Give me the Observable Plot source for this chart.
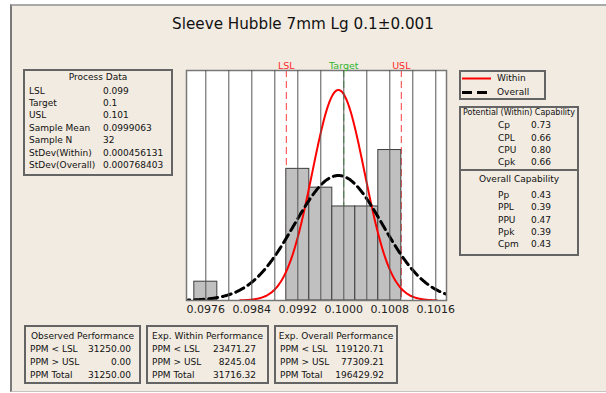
<!DOCTYPE html>
<html>
<head>
<meta charset="utf-8">
<script src="https://cdn.jsdelivr.net/npm/d3@7"></script>
<script src="https://cdn.jsdelivr.net/npm/@observablehq/plot@0.6"></script>
<style>
  html, body { margin: 0; padding: 0; background: #ffffff; }
  #page { position: relative; width: 606px; height: 393px; overflow: hidden; font-family: "DejaVu Sans", sans-serif; color: #000; }
  #panel { position: absolute; z-index: 0; left: 10px; top: 4px; width: 596px; height: 388px; box-sizing: border-box;
           background: #f2ebe1; border-top: 2px solid #a9a9a9; border-left: 2px solid #7a7a7a; border-bottom: 1px solid #c4c4c4; }
  .box { position: absolute; z-index: 1; box-sizing: border-box; border: 2px solid #646464; }
  .t { position: absolute; z-index: 2; white-space: nowrap; line-height: 14px; height: 14px; font-size: 9px; color: #111; }
  .heading { position: absolute; z-index: 2; left: 0; width: 606px; text-align: center; top: 14px; font-size: 15.2px; line-height: 20px; color: #111; }
  #chart-layer { position: absolute; left: 0; top: 0; width: 606px; height: 393px; z-index: 20; pointer-events: none; }
  #chart-layer svg { display: block; }
</style>
</head>
<body>
<div id="page">
  <div id="panel"></div>
  <div id="chart-layer"></div>
</div>
<script>
// Specification limits and sample statistics
const lsl = 0.099;
const target = 0.1;
const usl = 0.101;
const sampleMean = 0.0999063;
const sampleN = 32;
const sdWithin = 0.000456131;
const sdOverall = 0.000768403;

// Histogram bins (left edge) and counts
const binWidth = 0.0004;
const binStarts = [0.0974, 0.0990, 0.0994, 0.0998, 0.1002, 0.1006];
const binCounts = [1, 7, 6, 5, 5, 8];

// Axis
const xDomain = [0.097264, 0.101786];
const yMax = 12.23;
const xTickLabels = [0.0976, 0.0984, 0.0992, 0.1000, 0.1008, 0.1016];
const xMinorTicks = [0.0976, 0.0980, 0.0984, 0.0988, 0.0992, 0.0996, 0.1000, 0.1004, 0.1008, 0.1012, 0.1016];

// Capability indices
const withinCapLabels = ["Cp", "CPL", "CPU", "Cpk"];
const withinCapValues = ["0.73", "0.66", "0.80", "0.66"];
const overallCapLabels = ["Pp", "PPL", "PPU", "Ppk", "Cpm"];
const overallCapValues = ["0.43", "0.39", "0.47", "0.39", "0.43"];

// Performance (PPM)
const ppmLabels = ["PPM < LSL", "PPM > USL", "PPM Total"];
const observedPPM = ["31250.00", "0.00", "31250.00"];
const expWithinPPM = ["23471.27", "8245.04", "31716.32"];
const expOverallPPM = ["119120.71", "77309.21", "196429.92"];

const page = document.getElementById("page");

// ---------- text panels ----------
function el(cls, style, text) {
  const d = document.createElement("div");
  d.className = cls;
  Object.assign(d.style, style);
  if (text != null) d.textContent = text;
  page.appendChild(d);
  return d;
}
function box(left, top, width, height) {
  return el("box", {left: left + "px", top: top + "px", width: width + "px", height: height + "px"});
}
function txt(str, x, yc, opts = {}) {
  const s = {top: (yc - 7) + "px", fontSize: (opts.size || 9) + "px"};
  if (opts.align === "right") s.right = (606 - x) + "px";
  else if (opts.align === "center") { s.left = (x - 60) + "px"; s.width = "120px"; s.textAlign = "center"; }
  else s.left = x + "px";
  return el("t", s, str);
}

el("heading", {}, "Sleeve Hubble 7mm Lg 0.1\u00b10.001");

// Process Data
box(23, 69, 150, 107);
txt("Process Data", 98, 76.7, {align: "center"});
const processLabels = ["LSL", "Target", "USL", "Sample Mean", "Sample N", "StDev(Within)", "StDev(Overall)"];
const processValues = [lsl, target, usl, sampleMean, sampleN, sdWithin, sdOverall].map(String);
processLabels.forEach((l, i) => {
  const y = 90.7 + i * 12.38;
  txt(l, 29, y);
  txt(processValues[i], 103, y);
});

// Legend
box(459, 70, 87, 30);
const lg = document.createElementNS("http://www.w3.org/2000/svg", "svg");
lg.setAttribute("width", "40"); lg.setAttribute("height", "30");
Object.assign(lg.style, {position: "absolute", left: "459px", top: "70px", zIndex: "2"});
lg.innerHTML = '<line x1="3" x2="32" y1="8.5" y2="8.5" stroke="#ff0000" stroke-width="2"/>' +
               '<line x1="3" x2="33" y1="22.5" y2="22.5" stroke="#000" stroke-width="3" stroke-dasharray="10,5"/>';
page.appendChild(lg);
txt("Within", 497, 78.3);
txt("Overall", 497, 92.3);

// Capability
box(459, 106, 120, 150);
el("box", {left: "459px", top: "169px", width: "120px", height: "2px", border: "none", background: "#646464"});
txt("Potential (Within) Capability", 519, 112.7, {align: "center", size: 8});
withinCapLabels.forEach((l, i) => {
  const y = 125.3 + i * 12.3;
  txt(l, 498, y);
  txt(withinCapValues[i], 531, y);
});
txt("Overall Capability", 519, 179, {align: "center"});
overallCapLabels.forEach((l, i) => {
  const y = 195 + i * 12.3;
  txt(l, 498, y);
  txt(overallCapValues[i], 531, y);
});

// Performance boxes
const perf = [
  {title: "Observed Performance", left: 24, width: 117, right: 131, values: observedPPM},
  {title: "Exp. Within Performance", left: 146, width: 123, right: 256, values: expWithinPPM},
  {title: "Exp. Overall Performance", left: 274, width: 124, right: 384, values: expOverallPPM}
];
perf.forEach(p => {
  box(p.left, 325, p.width, 59);
  txt(p.title, p.left + p.width / 2, 335.7, {align: "center"});
  ppmLabels.forEach((l, i) => {
    const y = 349 + i * 13;
    txt(l, p.left + 6, y);
    txt(p.values[i], p.right, y, {align: "right"});
  });
});

// ---------- chart ----------
const bins = binStarts.map((x1, i) => ({x1, x2: x1 + binWidth, count: binCounts[i]}));

// fitted normal curves, scaled to histogram counts
function normalCurve(mu, sd, lo, hi, steps) {
  const k = sampleN * binWidth / (sd * Math.sqrt(2 * Math.PI));
  return d3.range(steps + 1).map(i => {
    const x = lo + (hi - lo) * i / steps;
    return {x, y: k * Math.exp(-0.5 * ((x - mu) / sd) ** 2)};
  });
}
const withinCurve = normalCurve(sampleMean, sdWithin, sampleMean - 3.75 * sdWithin, sampleMean + 3.75 * sdWithin, 400);
const overallCurve = normalCurve(sampleMean, sdOverall, xDomain[0] - 0.0001, xDomain[1] + 0.0001, 400);

const redSpecs = [{x: lsl, name: "LSL"}, {x: usl, name: "USL"}];
const greenSpecs = [{x: target, name: "Target"}];
const tickLabelData = xTickLabels.map(v => ({x: v, label: d3.format(".4f")(v)}));

const chart = Plot.plot({
  width: 606,
  height: 393,
  marginLeft: 186,
  marginRight: 160,
  marginTop: 70,
  marginBottom: 93,
  style: {background: "transparent", fontFamily: "DejaVu Sans, sans-serif", overflow: "visible"},
  x: {domain: xDomain, axis: null},
  y: {domain: [0, yMax], axis: null},
  marks: [
    Plot.frame({fill: "white"}),
    Plot.ruleX(redSpecs, {x: "x", stroke: "#ff3b3b", strokeWidth: 1, strokeDasharray: "7,4"}),
    Plot.ruleX(greenSpecs, {x: "x", stroke: "#3cbf3c", strokeWidth: 1, strokeDasharray: "7,4"}),
    Plot.rectY(bins, {x1: "x1", x2: "x2", y: "count", fill: "#c0c0c0", stroke: "#3d3d3d", strokeWidth: 1}),
    Plot.line(withinCurve, {x: "x", y: "y", stroke: "#ff0000", strokeWidth: 2, clip: true}),
    Plot.line(overallCurve, {x: "x", y: "y", stroke: "#000000", strokeWidth: 3, strokeDasharray: "9,5", clip: true}),
    Plot.frame({stroke: "#777777", strokeWidth: 1.5}),
    Plot.tickX(xMinorTicks, {x: d => d, y1: 0, y2: -0.22, stroke: "#555", clip: false}),
    Plot.text(tickLabelData, {x: "x", text: "label", frameAnchor: "bottom", lineAnchor: "top", dy: 5,
                              fontSize: 11, fill: "#222"}),
    Plot.text(redSpecs, {x: "x", text: "name", frameAnchor: "top", lineAnchor: "bottom", dy: -2, fill: "#ff2a2a", fontSize: 9.5}),
    Plot.text(greenSpecs, {x: "x", text: "name", frameAnchor: "top", lineAnchor: "bottom", dy: -2, fill: "#2fb52f", fontSize: 9.5})
  ]
});
document.getElementById("chart-layer").appendChild(chart);
</script>
</body>
</html>
